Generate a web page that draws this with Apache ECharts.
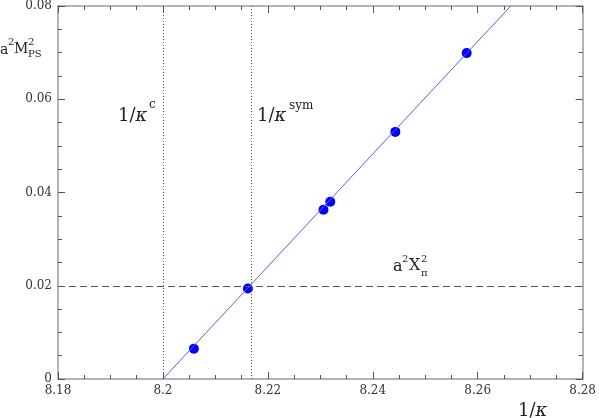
<!DOCTYPE html>
<html>
<head>
<meta charset="utf-8">
<script src="https://cdn.jsdelivr.net/npm/echarts@6/dist/echarts.min.js"></script>
<style>
  html, body { margin: 0; padding: 0; background: #fff; }
  #chart { width: 599px; height: 418px; }
</style>
</head>
<body>
<div id="chart"></div>
<script>
  // measured points (1/kappa, a^2 M_PS^2)
  var invKappa = [8.2059, 8.2162, 8.2306, 8.2319, 8.2443, 8.2579];
  var mps2 = [0.0065, 0.0194, 0.0363, 0.0380, 0.0530, 0.0699];
  // linear fit, drawn between these two ends
  var fitX = [8.2, 8.2663];
  var fitY = [0, 0.08];
  // reference lines
  var kappaC = 8.2;
  var kappaSym = 8.2168;
  var xPi2 = 0.02;
  var xTicks = [8.18, 8.2, 8.22, 8.24, 8.26, 8.28];
  var yTicks = [0, 0.02, 0.04, 0.06, 0.08];

  var serif = "'DejaVu Serif', 'Liberation Serif', serif";
  var axisGray = '#9a9a9a';

  var chart = echarts.init(document.getElementById('chart'));

  function mainAxis(min, max, interval, showLabel) {
    return {
      type: 'value', min: min, max: max, interval: interval,
      axisLine: { show: true, onZero: false, lineStyle: { color: axisGray, width: 1.5 } },
      axisTick: { show: true, inside: true, length: 7, lineStyle: { color: '#555' } },
      minorTick: { show: true, splitNumber: 4, length: 4, lineStyle: { color: '#555' } },
      splitLine: { show: false },
      axisLabel: { show: showLabel, color: '#333', fontFamily: serif, fontSize: 12, margin: 6 }
    };
  }

  var xBottom = mainAxis(xTicks[0], xTicks[xTicks.length - 1], 0.02, true);
  xBottom.position = 'bottom';
  var xTop = mainAxis(xTicks[0], xTicks[xTicks.length - 1], 0.02, false);
  xTop.position = 'top';
  var yLeft = mainAxis(yTicks[0], yTicks[yTicks.length - 1], 0.02, true);
  yLeft.position = 'left';
  var yRight = mainAxis(yTicks[0], yTicks[yTicks.length - 1], 0.02, false);
  yRight.position = 'right';

  // text piece placed by its left edge and vertical middle
  function txt(x, y, s, size) {
    return {
      type: 'text', x: x, y: y, silent: true,
      style: {
        text: s, fontFamily: serif, fontSize: size, fill: '#222', align: 'left', verticalAlign: 'middle',
        rich: { k: { fontFamily: serif, fontSize: size, fontStyle: 'italic', fill: '#222' } }
      }
    };
  }

  var options = {
    animation: false,
    grid: { left: 58, right: 13, top: 4.5, bottom: 39 },
    xAxis: [xBottom, xTop],
    yAxis: [yLeft, yRight],
    series: [
      {
        type: 'line', xAxisIndex: 0, yAxisIndex: 0,
        data: fitX.map(function (x, i) { return [x, fitY[i]]; }),
        symbol: 'none', silent: true,
        lineStyle: { color: '#5a5aff', width: 1 },
        markLine: {
          silent: true, symbol: 'none', precision: 5, label: { show: false },
          data: [
            { xAxis: kappaC, lineStyle: { color: '#555', type: [1, 2], width: 1 } },
            { xAxis: kappaSym, lineStyle: { color: '#555', type: [1, 2], width: 1 } },
            { yAxis: xPi2, lineStyle: { color: '#555', type: [7, 4], width: 1 } }
          ]
        }
      },
      {
        type: 'scatter', xAxisIndex: 0, yAxisIndex: 0,
        data: invKappa.map(function (x, i) { return [x, mps2[i]]; }),
        symbol: 'circle', symbolSize: 10,
        itemStyle: { color: '#0000ff', opacity: 1 }
      }
    ],
    graphic: [
      // y title a^2 M^2_PS
      txt(0, 50, 'a', 14),
      txt(8, 42, '2', 10),
      txt(14, 49, 'M', 14),
      txt(28, 42, '2', 10),
      txt(28, 54, 'PS', 10),
      // x title
      txt(518, 411, '1/{k|\u03ba}', 18),
      // 1/kappa^c
      txt(118, 116, '1/{k|\u03ba}', 18),
      txt(149, 105, 'c', 12),
      // 1/kappa^sym
      txt(257, 116, '1/{k|\u03ba}', 18),
      txt(289, 106, 'sym', 12),
      // a^2 X^2_pi
      txt(393, 267, 'a', 16),
      txt(402, 259, '2', 10),
      txt(409, 266, 'X', 16),
      txt(421, 259, '2', 10),
      txt(421, 273, '\u03c0', 10)
    ]
  };

  chart.setOption(options);
</script>
</body>
</html>
